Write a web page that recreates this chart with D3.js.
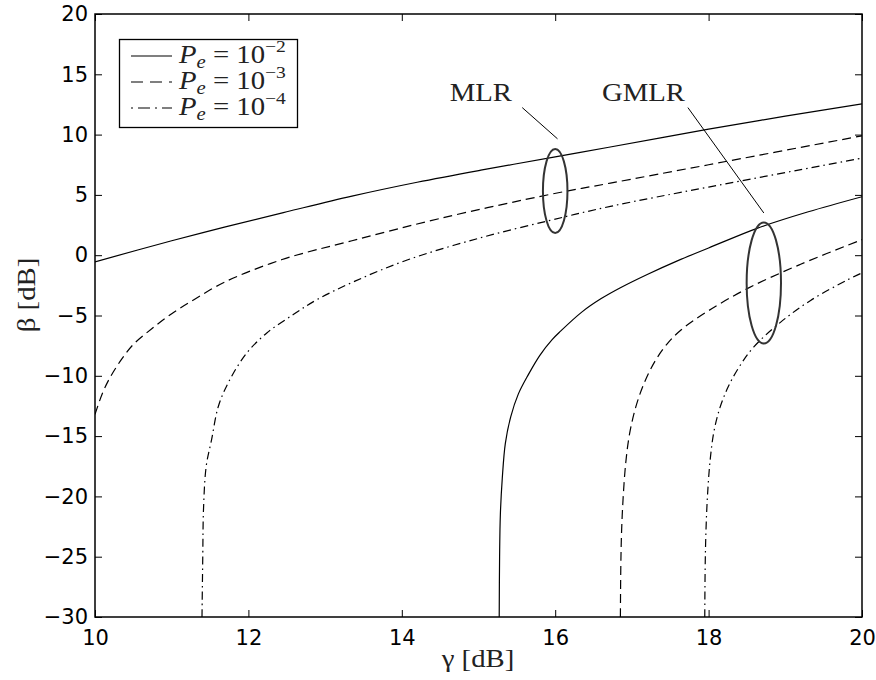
<!DOCTYPE html>
<html>
<head>
<meta charset="utf-8">
<script src="https://cdn.jsdelivr.net/npm/d3@7"></script>
<style>
  html, body { margin: 0; padding: 0; background: #fff; }
  svg { display: block; }
</style>
</head>
<body>
<svg id="chart" width="876" height="680"></svg>
<script>
// Axis ticks
const gammaTicks = [10, 12, 14, 16, 18, 20];
const betaTicks = [-30, -25, -20, -15, -10, -5, 0, 5, 10, 15, 20];

// MLR curves (γ in dB, β in dB)
const mlrPe2Gamma = [10, 11, 11.7, 12.5, 13.35, 14.2, 15.03, 16, 16.7, 18, 19, 20];
const mlrPe2Beta  = [-0.55, 1.2, 2.35, 3.6, 4.9, 6.05, 7.05, 8.15, 8.95, 10.45, 11.53, 12.55];

const mlrPe3Gamma = [10, 10.1, 10.2, 10.35, 10.5, 10.74, 11.0, 11.3, 11.7, 12.44, 13.35, 14.5, 15.94, 16.72, 18, 20];
const mlrPe3Beta  = [-13.2, -11.4, -10.1, -8.6, -7.4, -6.1, -4.85, -3.65, -2.2, -0.36, 1.2, 3.05, 5.05, 5.98, 7.5, 9.9];

const mlrPe4Gamma = [11.395, 11.405, 11.415, 11.45, 11.52, 11.61, 11.76, 11.98, 12.24, 12.59, 12.89, 13.39, 14.07, 15.0, 15.94, 16.72, 18, 20];
const mlrPe4Beta  = [-30, -25, -21, -17.5, -15.3, -12.5, -10.3, -8.1, -6.45, -4.9, -3.7, -2.15, -0.4, 1.4, 2.9, 4.05, 5.65, 8.05];

// GMLR curves
const gmlrPe2Gamma = [15.27, 15.275, 15.285, 15.31, 15.35, 15.42, 15.52, 15.65, 15.8, 15.96, 16.07, 16.35, 16.6, 16.85, 17.2, 17.6, 18.0, 18.64, 19.3, 20];
const gmlrPe2Beta  = [-30, -25, -21.5, -18.5, -15.6, -13.4, -11.5, -9.9, -8.3, -7.0, -6.3, -4.7, -3.6, -2.7, -1.6, -0.45, 0.6, 2.25, 3.6, 4.85];

const gmlrPe3Gamma = [16.85, 16.855, 16.865, 16.885, 16.92, 16.97, 17.05, 17.16, 17.3, 17.46, 17.64, 18.0, 18.51, 19.2, 20];
const gmlrPe3Beta  = [-30, -26, -23, -20.2, -17.2, -14.8, -12.6, -10.6, -8.8, -7.35, -6.2, -4.6, -2.75, -0.75, 1.29];

const gmlrPe4Gamma = [17.95, 17.955, 17.965, 17.985, 18.02, 18.07, 18.15, 18.26, 18.4, 18.59, 18.94, 19.33, 19.81, 20];
const gmlrPe4Beta  = [-30, -26, -23, -20, -17, -14.6, -12.6, -10.85, -9.25, -7.6, -5.55, -3.75, -2.05, -1.47];

// Legend exponents
const legendExponents = ["−2", "−3", "−4"];

// Group annotations: label, label anchor, ellipse (center, radii) and leader line, all in data units
const groupNames   = ["MLR", "GMLR"];
const groupLabelAt = [[15.03, 12.82], [17.15, 12.8]];
const groupEllipse = [[16.0, 5.32, 0.16, 3.48], [18.72, -2.30, 0.224, 5.02]];
const groupLeader  = [[15.57, 12.24, 16.03, 9.65], [17.73, 12.24, 18.72, 3.5]];

// ---------------------------------------------------------------
const margin = { left: 95, right: 14, top: 14, bottom: 63 };
const W = 876, H = 680;
const svg = d3.select("#chart");
svg.append("rect").attr("width", W).attr("height", H).attr("fill", "#fff");

const x = d3.scaleLinear().domain([10, 20]).range([margin.left, W - margin.right]);
const y = d3.scaleLinear().domain([-30, 20]).range([H - margin.bottom, margin.top]);

const sansFont = "'DejaVu Sans', 'Liberation Sans', Arial, sans-serif";
const serifFont = "'Liberation Serif', 'Times New Roman', Times, serif";
const serifStretch = 1.15;   // Times-like text set slightly wide

svg.append("defs").append("clipPath").attr("id", "plotClip")
  .append("rect")
  .attr("x", x(10)).attr("y", y(20))
  .attr("width", x(20) - x(10)).attr("height", y(-30) - y(20));

// Axes with inward ticks on all four sides
const tickLen = 7;
const gx = svg.append("g").attr("transform", `translate(0,${y(-30)})`)
  .call(d3.axisBottom(x).tickValues(gammaTicks).tickSizeInner(-tickLen).tickSizeOuter(0).tickPadding(13).tickFormat(d3.format("d")));
const gxTop = svg.append("g").attr("transform", `translate(0,${y(20)})`)
  .call(d3.axisTop(x).tickValues(gammaTicks).tickSizeInner(-tickLen).tickSizeOuter(0).tickFormat(""));
const gy = svg.append("g").attr("transform", `translate(${x(10)},0)`)
  .call(d3.axisLeft(y).tickValues(betaTicks).tickSizeInner(-tickLen).tickSizeOuter(0).tickPadding(7)
    .tickFormat(d => d < 0 ? "−" + Math.abs(d) : String(d)));
const gyRight = svg.append("g").attr("transform", `translate(${x(20)},0)`)
  .call(d3.axisRight(y).tickValues(betaTicks).tickSizeInner(-tickLen).tickSizeOuter(0).tickFormat(""));

[gx, gxTop, gy, gyRight].forEach(g => {
  g.select(".domain").remove();
  g.selectAll(".tick line").attr("stroke", "#000").attr("stroke-width", 1);
  g.selectAll(".tick text").attr("fill", "#000").style("font-family", sansFont).style("font-size", "21px");
});

// Curves
const lineGen = d3.line().x(d => x(d[0])).y(d => y(d[1])).curve(d3.curveCatmullRom.alpha(0.5));
const zipPts = (gs, bs) => gs.map((g, i) => [g, bs[i]]);
const curves = [
  { pts: zipPts(mlrPe2Gamma, mlrPe2Beta), dash: null },
  { pts: zipPts(mlrPe3Gamma, mlrPe3Beta), dash: "9,5" },
  { pts: zipPts(mlrPe4Gamma, mlrPe4Beta), dash: "8,4,1.5,4" },
  { pts: zipPts(gmlrPe2Gamma, gmlrPe2Beta), dash: null },
  { pts: zipPts(gmlrPe3Gamma, gmlrPe3Beta), dash: "9,5" },
  { pts: zipPts(gmlrPe4Gamma, gmlrPe4Beta), dash: "8,4,1.5,4" }
];
const plot = svg.append("g").attr("clip-path", "url(#plotClip)");
plot.selectAll("path.curve").data(curves).join("path")
  .attr("class", "curve")
  .attr("d", d => lineGen(d.pts))
  .attr("fill", "none")
  .attr("stroke", "#000")
  .attr("stroke-width", 1.2)
  .attr("stroke-dasharray", d => d.dash);

// Serif text placed at (px, py), widened horizontally
function serifText(parent, px, py, size, rotate) {
  const rot = rotate ? ` rotate(${rotate})` : "";
  return parent.append("text")
    .attr("transform", `translate(${px},${py})${rot} scale(${serifStretch},1)`)
    .style("font-family", serifFont).style("font-size", size + "px")
    .attr("fill", "#222");
}

// Group ellipses, leader lines and labels
groupNames.forEach((name, i) => {
  const [cg, cb, rg, rb] = groupEllipse[i];
  plot.append("ellipse")
    .attr("cx", x(cg)).attr("cy", y(cb))
    .attr("rx", x(cg + rg) - x(cg)).attr("ry", y(cb - rb) - y(cb))
    .attr("fill", "none").attr("stroke", "#333").attr("stroke-width", 2);
  const [g1, b1, g2, b2] = groupLeader[i];
  svg.append("line")
    .attr("x1", x(g1)).attr("y1", y(b1)).attr("x2", x(g2)).attr("y2", y(b2))
    .attr("stroke", "#000").attr("stroke-width", 1);
  serifText(svg, x(groupLabelAt[i][0]), y(groupLabelAt[i][1]), 25)
    .attr("text-anchor", "middle")
    .text(name);
});

// Frame
svg.append("rect")
  .attr("x", x(10)).attr("y", y(20))
  .attr("width", x(20) - x(10)).attr("height", y(-30) - y(20))
  .attr("fill", "none").attr("stroke", "#000").attr("stroke-width", 1.5);

// Axis titles
serifText(svg, 478, 667, 25).attr("text-anchor", "middle").text("γ [dB]");
serifText(svg, 35, 295, 25, -90).attr("text-anchor", "middle").text("β [dB]");

// Legend
const legend = svg.append("g");
legend.append("rect")
  .attr("x", 119.5).attr("y", 39.5).attr("width", 178).attr("height", 88)
  .attr("fill", "#fff").attr("stroke", "#000").attr("stroke-width", 1.3);
const legendDash = [null, "12,7", "2,5,12,5"];
legendExponents.forEach((ex, i) => {
  const ry = 56 + i * 26;
  legend.append("line")
    .attr("x1", 131).attr("x2", 172).attr("y1", ry).attr("y2", ry)
    .attr("stroke", "#000").attr("stroke-width", 1.2)
    .attr("stroke-dasharray", legendDash[i]);
  const t = serifText(legend, 179, ry + 7, 25);
  t.append("tspan").style("font-style", "italic").text("P");
  t.append("tspan").style("font-style", "italic").style("font-size", "18px").attr("dy", 5).text("e");
  t.append("tspan").attr("dy", -5).text(" = 10");
  t.append("tspan").style("font-size", "17px").attr("dy", -11).text(ex);
});
</script>
</body>
</html>
